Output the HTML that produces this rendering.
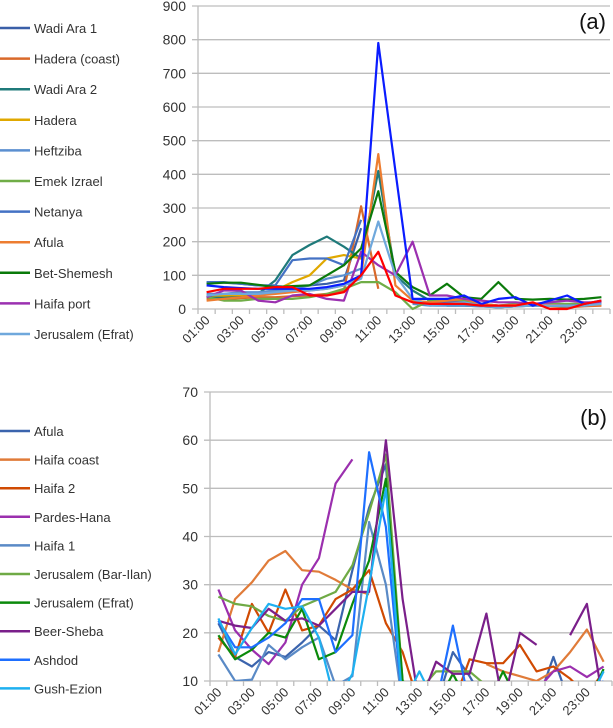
<!DOCTYPE html>
<html><head><meta charset="utf-8"><style>
html,body{margin:0;padding:0;background:#fff;}
svg{display:block;font-family:"Liberation Sans",sans-serif;}
</style></head><body>
<svg id="chart" width="613" height="728" viewBox="0 0 613 728">
<defs><clipPath id="clipB"><rect x="210" y="385" width="403" height="296"/></clipPath></defs>
<g id="panelA"></g>
<g id="panelB"></g>
</svg>
<script>
const hours = ["01:00","02:00","03:00","04:00","05:00","06:00","07:00","08:00","09:00","10:00","11:00","12:00","13:00","14:00","15:00","16:00","17:00","18:00","19:00","20:00","21:00","22:00","23:00","24:00"];
const ticksA = [0,100,200,300,400,500,600,700,800,900];
const ticksB = [10,20,30,40,50,60,70];
const N = null;
// Panel (a) series
const namesA = ["Wadi Ara 1","Hadera (coast)","Wadi Ara 2","Hadera","Heftziba","Emek Izrael","Netanya","Afula","Bet-Shemesh","Haifa port","Jerusalem (Efrat)"];
const colorsA = ["#3a5fa8","#d9692a","#1f7a7a","#e0a800","#5b8fd0","#70ad47","#4472c4","#ed7d31","#0a7a0a","#9b30b0","#6fa8dc"];
const wadiAra1 = [78,78,75,70,68,65,70,75,85,240,N,N,20,15,20,25,15,10,12,15,12,10,12,15];
const haderaCoast = [30,30,32,35,35,38,40,45,55,305,60,N,20,15,20,25,10,5,8,10,8,5,8,10];
const wadiAra2 = [35,35,40,45,85,160,190,215,185,150,410,100,55,25,10,10,8,5,8,10,10,8,10,15];
const hadera = [40,40,42,45,55,80,100,150,160,150,N,N,20,15,15,15,10,10,10,12,10,10,12,15];
const heftziba = [45,45,50,50,55,60,70,90,100,120,N,N,15,10,10,10,8,5,8,10,10,8,10,15];
const emekIzrael = [35,25,25,30,30,30,35,45,60,80,80,50,0,25,30,25,15,10,15,15,15,15,15,20];
const netanya = [80,80,75,70,70,145,150,150,130,265,N,N,25,20,20,20,10,10,10,15,12,10,12,15];
const afula = [25,30,35,40,45,50,55,60,70,100,460,70,25,20,25,30,15,10,12,15,12,10,10,12];
const betShemesh = [75,78,78,72,65,68,70,100,130,180,350,110,65,40,75,35,30,80,30,28,30,28,30,35];
const haifaPort = [35,55,55,25,20,40,45,30,25,170,130,100,200,40,40,30,25,20,20,15,20,25,20,20];
const jerEfratA = [40,45,45,45,50,55,55,60,70,90,260,100,30,10,15,20,10,5,8,10,10,10,10,15];
const extraBlue = [70,65,62,60,60,60,60,65,75,100,790,410,30,30,30,40,15,30,35,10,25,40,15,25];
const extraRed = [50,60,60,60,65,65,40,40,50,100,170,40,20,15,15,15,10,10,10,20,0,0,15,25];
// Panel (b) series
const namesB = ["Afula","Haifa coast","Haifa 2","Pardes-Hana","Haifa 1","Jerusalem (Bar-Ilan)","Jerusalem (Efrat)","Beer-Sheba","Ashdod","Gush-Ezion"];
const colorsB = ["#3b64ad","#e07b39","#d04a02","#9b2fae","#5a8ac6","#6faa45","#0b8a0b","#7a1f8a","#1e6fff","#1eb0f0"];
const afulaB = [22,15,13,16,15,18,21.5,18.5,33,46,55,8,5,5,16,11,5,5,5,5,15,5,5,5];
const haifaCoastB = [16,27,30.5,35,37,33,32.7,31,29,28,N,N,N,N,N,N,13.5,12,11,10,12,16,20.7,14];
const haifa2B = [19,15,26,20,29,20.5,21.5,27,29,33,22,16,5,5,5,14.5,13.7,13.7,17.5,12,13,10.5,7,12];
const pardesHanaB = [29,20.5,16.5,13.5,18,30,35.5,51,56,N,N,N,N,N,N,N,N,N,N,8,12,13,10.8,13];
const haifa1B = [15.5,10,10.3,17.5,14.5,17,19,9,11,43,30,5,5,5,5,5,5,5,5,5,5,5,5,5];
const barIlanB = [27.5,26,25.5,23.5,22.5,25.5,27,28.5,34,45,57,10,8,12,12,12,9,5,5,5,5,5,5,5];
const efratB = [19.5,14.5,16.5,20,19,25,14.5,16,26,35,52,10,5,5,11.5,5,5,12,5,5,5,5,5,12.5];
const beerShebaB = [22.5,21.5,21,25,22.5,23,21.5,25,28.5,28.5,60,27,5,14,11.5,11.5,24,5,20,17.5,N,19.5,26,5];
const ashdodB = [22.5,17,17,19,22,27,27,16,19.5,57.5,42,5,5,5,21.5,5,5,5,5,5,5,5,5,10];
const gushEzionB = [23,15.5,21,26,25,25.5,19,5,11.5,30,50,5,12,5,5,5,5,5,5,5,5,5,5,12];

const seriesA = [wadiAra1,haderaCoast,wadiAra2,hadera,heftziba,emekIzrael,netanya,afula,betShemesh,haifaPort,jerEfratA];
const seriesB = [afulaB,haifaCoastB,haifa2B,pardesHanaB,haifa1B,barIlanB,efratB,beerShebaB,ashdodB,gushEzionB];

const NS = "http://www.w3.org/2000/svg";
function mk(parent, tag, attrs){const e=document.createElementNS(NS,tag);for(const k in attrs)e.setAttribute(k,attrs[k]);parent.appendChild(e);return e;}

function drawPanel(g, cfg){
  const {x0,x1,yTop,yBot,vMin,vMax,ticks,series,colors,names,extra,label,legendY0,legendStep,clip,labelFont} = cfg;
  const cw=(x1-x0)/hours.length;
  const xs=i=>x0+cw*(i+0.5);
  const ys=v=>yBot-(v-vMin)/(vMax-vMin)*(yBot-yTop);
  ticks.forEach(t=>{
    const y=ys(t);
    const gl=mk(g,"line",{x1:x0-6,x2:x1,y1:y,y2:y,stroke:"#bdbdbd","stroke-width":1.3});
    
    
    const tl=mk(g,"text",{x:x0-12,y:y+5,"text-anchor":"end","font-size":14,fill:"#333"});
    tl.textContent=t;
    
    
  });
  const ax=mk(g,"line",{x1:x0,x2:x0,y1:yTop,y2:yBot,stroke:"#bdbdbd","stroke-width":1.3});
  
  
  for(let i=0;i<=hours.length;i++){
    const tk=mk(g,"line",{x1:x0+cw*i,x2:x0+cw*i,y1:yBot,y2:yBot+5,stroke:"#bdbdbd","stroke-width":1.3});
    
    
  }
  hours.forEach((h,i)=>{
    if(i%2) return;
    const x=xs(i)+4,y=yBot+12;
    const t=mk(g,"text",{x:x,y:y,"text-anchor":"end","font-size":labelFont,fill:"#333",transform:`rotate(-45 ${x} ${y})`});
    t.textContent=h;
    
    
  });
  const lg=mk(g,"g",clip?{"clip-path":"url(#"+clip+")"}:{});
  const all=series.map((s,k)=>[s,colors[k]]).concat(extra);
  all.forEach(([s,c])=>{
    let d="",pen=false;
    s.forEach((v,i)=>{
      if(v===null){pen=false;return;}
      d+=(pen?"L":"M")+xs(i).toFixed(1)+","+ys(v).toFixed(1);pen=true;
    });
    const p=mk(lg,"path",{d:d,fill:"none",stroke:c,"stroke-width":2.2,"stroke-linejoin":"round"});
    
    
  });
  names.forEach((n,k)=>{
    const y=legendY0+legendStep*k;
    const l=mk(g,"line",{x1:0,x2:30,y1:y,y2:y,stroke:colors[k],"stroke-width":2.5});
    
    
    const t=mk(g,"text",{x:34,y:y+5,"font-size":13,fill:"#333"});
    t.textContent=n;
    
    
  });
  const pl=mk(g,"text",{x:cfg.labelX,y:cfg.labelY,"font-size":cfg.labelSize,fill:"#111","text-anchor":"end"});
  pl.textContent=label;
  
  
}

drawPanel(document.getElementById("panelA"),{x0:198,x1:610,yTop:6,yBot:309,vMin:0,vMax:900,ticks:ticksA,series:seriesA,colors:colorsA,names:namesA,
  extra:[[extraBlue,"#0a1cff"],[extraRed,"#ff0000"]],label:"(a)",labelX:606,labelY:29,labelSize:22,legendY0:28,legendStep:30.6,clip:null,labelFont:13});
drawPanel(document.getElementById("panelB"),{x0:210,x1:612,yTop:392,yBot:681,vMin:10,vMax:70,ticks:ticksB,series:seriesB,colors:colorsB,names:namesB,
  extra:[],label:"(b)",labelX:607,labelY:425,labelSize:22,legendY0:431,legendStep:28.6,clip:"clipB",labelFont:13});
</script>
</body></html>
